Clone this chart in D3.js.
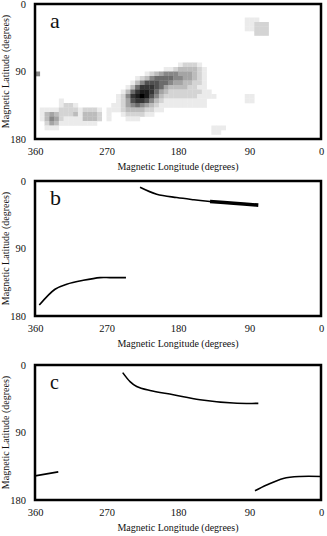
<!DOCTYPE html>
<html>
<head>
<meta charset="utf-8">
<script src="https://cdn.jsdelivr.net/npm/d3@7"></script>
<style>
  body { margin: 0; background: #fff; }
  svg { display: block; }
  text { font-family: "Liberation Serif", "DejaVu Serif", serif; fill: #111; }
</style>
</head>
<body>
<svg id="chart" width="327" height="536"></svg>
<script>
const lonTicks = [360, 270, 180, 90, 0];
const latTicks = [0, 90, 180];
const binDeg = 6;

// heat map runs: [lat of bin top, lon of first bin (west edge), intensities of consecutive 6deg bins going east]
// '.' = empty, 'X' = 10 (darkest)
const heatRuns = [
  [18, 96, '111'],
  [24, 96, '11222'],
  [30, 96, '11222'],
  [36, 84, '222'],
  [78, 180, '12221'],
  [84, 198, '112333321'],
  [90, 360, '5'],
  [90, 222, '1234555444321'],
  [96, 234, '123566665544321'],
  [102, 240, '1357776654433221'],
  [108, 246, '13688876433332211'],
  [114, 252, '1368998643222222211'],
  [120, 258, '12589X975322222221111'],
  [120, 96, '11'],
  [126, 330, '1'],
  [126, 258, '1247887532111111111'],
  [126, 96, '11'],
  [132, 330, '1221'],
  [132, 264, '11245654321111111111'],
  [138, 354, '1111222212221.111233332211'],
  [144, 354, '1343222313332.1..1222211'],
  [150, 354, '1354211113332.1...111'],
  [156, 348, '24311111111'],
  [162, 348, '111'],
  [162, 138, '111'],
  [168, 138, '11'],
];

// panel b traces [lon, lat]
const bUpper = [[227.8, 8.3], [206.8, 17.6], [181.6, 22.1], [160, 25], [139.7, 27.4]];
const bThick = [[139.7, 27.4], [110, 29.6], [78.9, 32.2]];
const bLower = [[354.6, 165.4], [334.8, 144.3], [320.1, 137.6], [299.2, 132.4], [278.2, 128.8], [265.6, 128.8], [245.5, 128.8]];

// panel c traces [lon, lat]
const cUpper = [[249.6, 10.2], [240.4, 22.1], [232, 28.7], [215.3, 34], [185.9, 39.7], [152.3, 46.3], [110.4, 50.7], [78.9, 51.2]];
const cLeft = [[360, 147.8], [330.7, 142.5]];
const cRight = [[83.1, 167.7], [68.4, 160.1], [47.5, 151.3], [26.4, 148.6], [0, 148.6]];

const svg = d3.select('#chart');
const left = 35, boxW = 286, boxH = 135;

const x = d3.scaleLinear().domain([360, 0]).range([left, left + boxW]);
const grey = d3.scaleLinear()
  .domain([0, 1, 2, 4, 6, 8, 10])
  .range(['#ffffff', '#ebebeb', '#d4d4d4', '#a4a4a4', '#6c6c6c', '#363636', '#000000']);

svg.append('defs').append('filter')
  .attr('id', 'soft')
  .append('feGaussianBlur')
  .attr('stdDeviation', 0.6);

function drawPanel(top, letter, name, draw) {
  const y = d3.scaleLinear().domain([0, 180]).range([top, top + boxH]);
  const g = svg.append('g').attr('class', 'panel');

  g.append('clipPath').attr('id', 'clip-' + name)
    .append('rect')
    .attr('x', left).attr('y', top)
    .attr('width', boxW).attr('height', boxH);

  const inner = g.append('g').attr('clip-path', `url(#clip-${name})`);
  draw(inner, y);

  g.append('rect')
    .attr('x', left).attr('y', top)
    .attr('width', boxW).attr('height', boxH)
    .attr('fill', 'none')
    .attr('stroke', '#000')
    .attr('stroke-width', 2.5);

  const ax = g.append('g')
    .attr('transform', `translate(0,${top + boxH})`)
    .call(d3.axisBottom(x).tickValues(lonTicks).tickSize(0).tickPadding(9));
  ax.select('.domain').remove();

  const ay = g.append('g')
    .attr('transform', `translate(${left},0)`)
    .call(d3.axisLeft(y).tickValues(latTicks).tickSize(0).tickPadding(9));
  ay.select('.domain').remove();

  g.selectAll('.tick text')
    .style('font-family', '"Liberation Serif", serif')
    .style('font-size', '10.5px')
    .style('fill', '#111');

  g.append('text')
    .attr('x', left + boxW / 2)
    .attr('y', top + boxH + 31)
    .attr('text-anchor', 'middle')
    .style('font-size', '10px')
    .text('Magnetic Longitude (degrees)');

  g.append('text')
    .attr('transform', `translate(9,${top + boxH / 2}) rotate(-90)`)
    .attr('text-anchor', 'middle')
    .style('font-size', '10px')
    .text('Magnetic Latitude (degrees)');

  g.append('text')
    .attr('x', left + 15)
    .attr('y', top + 24)
    .style('font-size', letter === 'c' ? '20px' : '22px')
    .text(letter);
}

function trace(g, y, pts, width) {
  const line = d3.line()
    .x(d => x(d[0]))
    .y(d => y(d[1]))
    .curve(d3.curveCatmullRom);
  g.append('path')
    .datum(pts)
    .attr('d', line)
    .attr('fill', 'none')
    .attr('stroke', '#000')
    .attr('stroke-width', width)
    .attr('stroke-linecap', 'butt');
}

// panel a: heat map
drawPanel(4, 'a', 'a', (g, y) => {
  const cells = [];
  heatRuns.forEach(([lat, lon0, vals]) => {
    vals.split('').forEach((ch, i) => {
      if (ch === '.') return;
      cells.push({ lat, lon: lon0 - i * binDeg, v: ch === 'X' ? 10 : +ch });
    });
  });
  g.append('g')
    .attr('filter', 'url(#soft)')
    .selectAll('rect')
    .data(cells)
    .enter().append('rect')
    .attr('x', d => x(d.lon))
    .attr('y', d => y(d.lat))
    .attr('width', d => x(d.lon - binDeg) - x(d.lon) + 0.3)
    .attr('height', d => y(d.lat + binDeg) - y(d.lat) + 0.3)
    .attr('fill', d => grey(d.v));
});

// panel b
drawPanel(181, 'b', 'b', (g, y) => {
  trace(g, y, bUpper, 1.6);
  trace(g, y, bThick, 3.6);
  trace(g, y, bLower, 1.6);
});

// panel c
drawPanel(365, 'c', 'c', (g, y) => {
  trace(g, y, cUpper, 1.6);
  trace(g, y, cLeft, 1.6);
  trace(g, y, cRight, 1.6);
});
</script>
</body>
</html>
